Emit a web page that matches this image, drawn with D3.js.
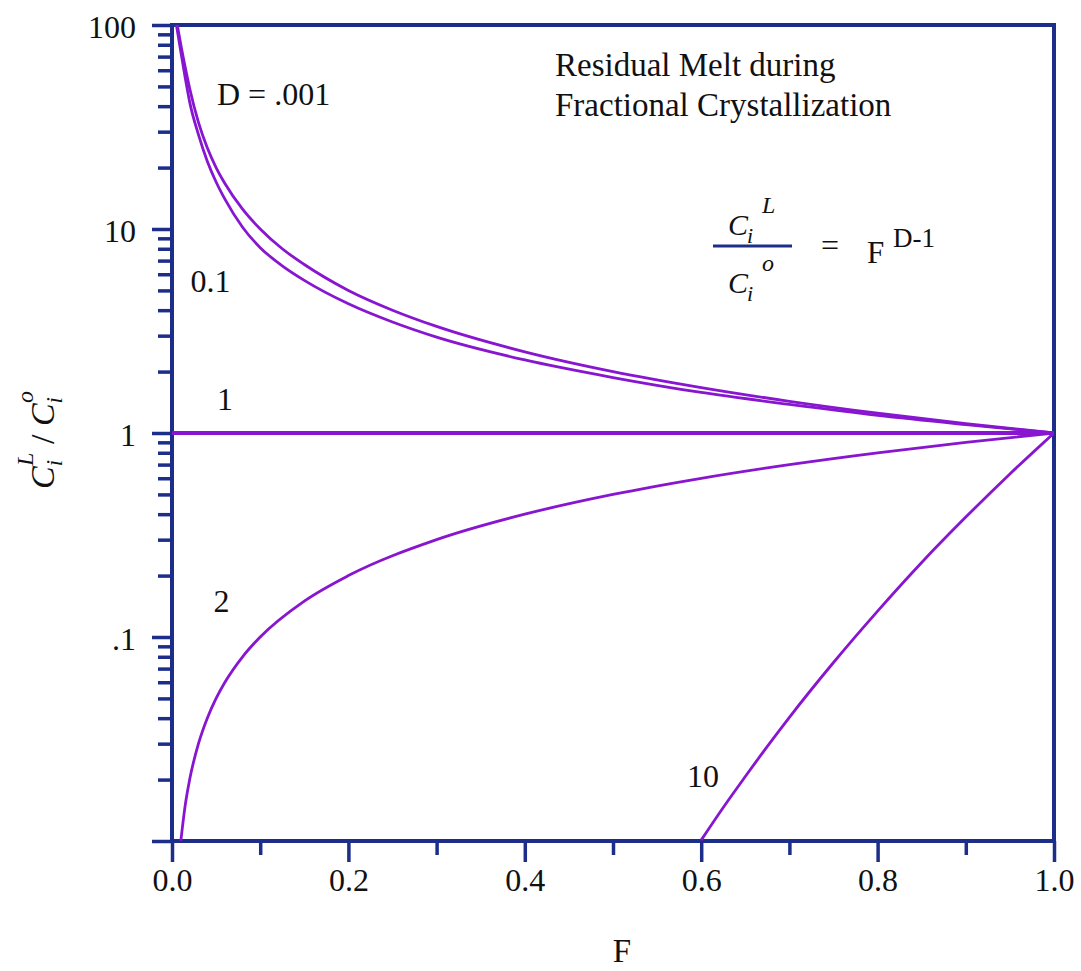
<!DOCTYPE html>
<html>
<head>
<meta charset="utf-8">
<script src="https://cdn.jsdelivr.net/npm/d3@7"></script>
<style>
	body { margin: 0; background: #fff; }
	svg text { font-family: "Liberation Serif", "Times New Roman", serif; fill: #111; }
</style>
</head>
<body>
<svg id="chart" width="1081" height="971"></svg>
<script>
// values: F (fraction of melt left) and C_L / C_o
const fD0001 = [0.006, 0.01, 0.015, 0.02, 0.03, 0.04, 0.05, 0.06, 0.08, 0.10, 0.125, 0.15, 0.20, 0.25, 0.30, 0.40, 0.50, 0.60, 0.70, 0.80, 0.90, 1.00];
const cD0001 = [100, 80, 62, 49, 33.3, 25, 20, 16.7, 12.5, 10, 8.0, 6.7, 5.0, 4.0, 3.33, 2.5, 2.0, 1.67, 1.43, 1.25, 1.11, 1];

const fD01 = [0.005, 0.01, 0.015, 0.02, 0.03, 0.04, 0.05, 0.06, 0.08, 0.10, 0.125, 0.15, 0.20, 0.25, 0.30, 0.40, 0.50, 0.60, 0.70, 0.80, 0.90, 1.00];
const cD01 = [100, 74, 55, 42, 29, 21.5, 17, 14, 10.2, 8.1, 6.6, 5.6, 4.3, 3.5, 2.95, 2.28, 1.87, 1.58, 1.38, 1.22, 1.10, 1];

const fD1 = [0, 1];
const cD1 = [1, 1];

const fD2 = [0.01, 0.015, 0.02, 0.03, 0.04, 0.05, 0.06, 0.08, 0.10, 0.15, 0.20, 0.30, 0.40, 0.50, 0.60, 0.70, 0.80, 0.90, 1.00];
const cD2 = [0.01, 0.015, 0.02, 0.03, 0.04, 0.05, 0.06, 0.08, 0.10, 0.15, 0.20, 0.30, 0.40, 0.50, 0.60, 0.70, 0.80, 0.90, 1];

const fD10 = [0.60, 0.625, 0.65, 0.675, 0.70, 0.75, 0.80, 0.85, 0.90, 0.95, 1.00];
const cD10 = [0.0101, 0.0146, 0.0207, 0.0291, 0.0404, 0.075, 0.134, 0.232, 0.387, 0.630, 1];

// curve labels
const curveLabels = ["D = .001", "0.1", "1", "2", "10"];
const labelPos = [[0.051, 40.5], [0.021, 4.9], [0.051, 1.3], [0.047, 0.133], [0.584, 0.0184]]; // F, C at label baseline

// axis ticks
const yMajor = [0.01, 0.1, 1, 10, 100];
const yMajorLabels = ["", ".1", "1", "10", "100"];
const xMajor = [0, 0.2, 0.4, 0.6, 0.8, 1.0];
const xMinor = [0.1, 0.3, 0.5, 0.7, 0.9];

const navy = "#1c2e8a";
const purple = "#8816d0";

var svg = d3.select("#chart");

var x = d3.scaleLinear().domain([0, 1]).range([172, 1054]);
var y = d3.scaleLog().domain([0.01, 100]).range([841, 25]);

// minor log ticks 2..9 in every decade
var yMinor = [];
yMajor.slice(0, -1).forEach(function(d) {
	for (var k = 2; k <= 9; k++) yMinor.push(d * k);
});

svg.append("defs")
	.append("clipPath")
	.attr("id", "plotClip")
	.append("rect")
	.attr("x", x(0))
	.attr("y", y(100))
	.attr("width", x(1) - x(0))
	.attr("height", y(0.01) - y(100));

// y axis, major and minor
svg.append("g")
	.attr("transform", "translate(" + x(0) + ",0)")
	.call(d3.axisLeft(y).tickValues(yMinor).tickSize(14).tickFormat(""))
	.call(g => g.select(".domain").remove())
	.call(g => g.selectAll("line").attr("stroke", navy).attr("stroke-width", 3.5));

svg.append("g")
	.attr("transform", "translate(" + x(0) + ",0)")
	.call(d3.axisLeft(y).tickValues(yMajor).tickSize(20).tickPadding(16)
		.tickFormat((d, i) => yMajorLabels[i]))
	.call(g => g.select(".domain").remove())
	.call(g => g.selectAll("line").attr("stroke", navy).attr("stroke-width", 3.5))
	.call(g => g.selectAll("text")
		.attr("dy", "0.4em")
		.style("font-size", "32px")
		.style("font-family", "'Liberation Serif', serif")
		.attr("fill", "#111"));

// x axis
svg.append("g")
	.attr("transform", "translate(0," + y(0.01) + ")")
	.call(d3.axisBottom(x).tickValues(xMinor).tickSize(14).tickFormat(""))
	.call(g => g.select(".domain").remove())
	.call(g => g.selectAll("line").attr("stroke", navy).attr("stroke-width", 3.5));

svg.append("g")
	.attr("transform", "translate(0," + y(0.01) + ")")
	.call(d3.axisBottom(x).tickValues(xMajor).tickSize(21).tickPadding(6)
		.tickFormat(d3.format(".1f")))
	.call(g => g.select(".domain").remove())
	.call(g => g.selectAll("line").attr("stroke", navy).attr("stroke-width", 3.5))
	.call(g => g.selectAll("text")
		.style("font-size", "32px")
		.style("font-family", "'Liberation Serif', serif")
		.attr("fill", "#111"));

// frame
svg.append("rect")
	.attr("x", x(0))
	.attr("y", y(100))
	.attr("width", x(1) - x(0))
	.attr("height", y(0.01) - y(100))
	.attr("fill", "none")
	.attr("stroke", navy)
	.attr("stroke-width", 4);

// curves
var series = [
	{ f: fD0001, c: cD0001, w: 2.8 },
	{ f: fD01, c: cD01, w: 2.8 },
	{ f: fD1, c: cD1, w: 4 },
	{ f: fD2, c: cD2, w: 2.8 },
	{ f: fD10, c: cD10, w: 2.8 }
];

var line = d3.line()
	.x(d => x(d[0]))
	.y(d => y(d[1]))
	.curve(d3.curveMonotoneX);

svg.append("g")
	.attr("clip-path", "url(#plotClip)")
	.selectAll("path")
	.data(series)
	.enter()
	.append("path")
	.attr("d", s => line(s.f.map((f, i) => [f, s.c[i]])))
	.attr("fill", "none")
	.attr("stroke", purple)
	.attr("stroke-width", s => s.w)
	.attr("stroke-linejoin", "round");

// curve labels
svg.append("g")
	.selectAll("text")
	.data(curveLabels)
	.enter()
	.append("text")
	.attr("x", (d, i) => x(labelPos[i][0]))
	.attr("y", (d, i) => y(labelPos[i][1]))
	.style("font-size", "32px")
	.text(d => d);

// title
var title = svg.append("text")
	.attr("x", 555)
	.attr("y", 76)
	.style("font-size", "33px");
title.append("tspan").text("Residual Melt during");
title.append("tspan").attr("x", 555).attr("dy", 40).text("Fractional Crystallization");

// equation  C_i^L / C_i^o = F^(D-1)
var eq = svg.append("g").attr("transform", "translate(713,0)");

function ratioPart(g, baseY, sup) {
	g.append("text")
		.attr("x", 15)
		.attr("y", baseY)
		.style("font-size", "30px")
		.style("font-style", "italic")
		.text("C");
	g.append("text")
		.attr("x", 34)
		.attr("y", baseY + 8)
		.style("font-size", "22px")
		.style("font-style", "italic")
		.text("i");
	g.append("text")
		.attr("x", 49)
		.attr("y", baseY - 22)
		.style("font-size", "24px")
		.style("font-style", "italic")
		.text(sup);
}
ratioPart(eq, 235, "L");
ratioPart(eq, 293, "o");

eq.append("line")
	.attr("x1", 0)
	.attr("x2", 79)
	.attr("y1", 246)
	.attr("y2", 246)
	.attr("stroke", navy)
	.attr("stroke-width", 3);

svg.append("text")
	.attr("x", 821)
	.attr("y", 256)
	.style("font-size", "32px")
	.text("=");

svg.append("text")
	.attr("x", 867)
	.attr("y", 263)
	.style("font-size", "31px")
	.text("F");

svg.append("text")
	.attr("x", 893)
	.attr("y", 247)
	.style("font-size", "27px")
	.text("D-1");

// axis titles
svg.append("text")
	.attr("x", 622)
	.attr("y", 962)
	.attr("text-anchor", "middle")
	.style("font-size", "33px")
	.text("F");

var ylab = svg.append("text")
	.attr("transform", "translate(54,440) rotate(-90)")
	.attr("text-anchor", "middle")
	.style("font-size", "34px")
	.style("font-style", "italic");
ylab.append("tspan").text("C");
ylab.append("tspan").attr("dy", 8).style("font-size", "23px").text("i");
ylab.append("tspan").attr("dx", -6).attr("dy", -29).style("font-size", "24px").text("L");
ylab.append("tspan").attr("dy", 21).style("font-style", "normal").text(" / ");
ylab.append("tspan").text("C");
ylab.append("tspan").attr("dy", 8).style("font-size", "23px").text("i");
ylab.append("tspan").attr("dx", -6).attr("dy", -29).style("font-size", "24px").text("o");
</script>
</body>
</html>
